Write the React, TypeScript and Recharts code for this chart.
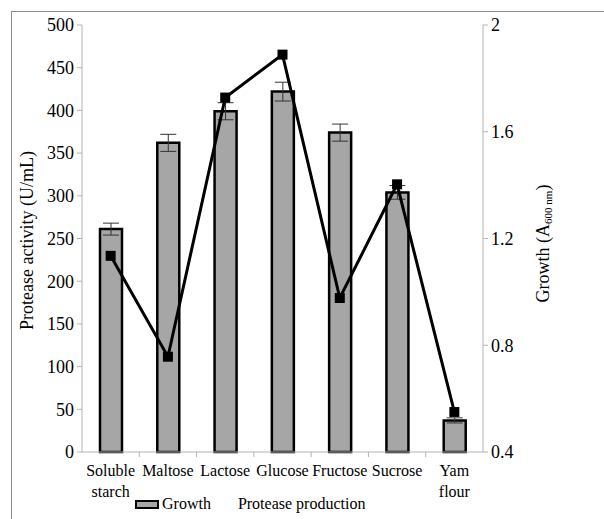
import React from "react";
import {
  ComposedChart,
  Bar,
  Line,
  XAxis,
  YAxis,
  ErrorBar,
} from "recharts";

const CATEGORIES = [
  "Soluble starch",
  "Maltose",
  "Lactose",
  "Glucose",
  "Fructose",
  "Sucrose",
  "Yam flour",
];
const CATEGORY_LINES = [
  ["Soluble", "starch"],
  ["Maltose"],
  ["Lactose"],
  ["Glucose"],
  ["Fructose"],
  ["Sucrose"],
  ["Yam", "flour"],
];
const BAR_VALUES = [261, 362, 399, 422, 374, 304, 37];
const BAR_ERRORS = [7, 10, 10, 11, 10, 8, 3];
const LINE_VALUES = [1.135, 0.757, 1.728, 1.889, 0.977, 1.403, 0.55];
const LEFT_TICKS = [0, 50, 100, 150, 200, 250, 300, 350, 400, 450, 500];
const RIGHT_TICKS = [0.4, 0.8, 1.2, 1.6, 2];

const data = CATEGORIES.map((c, i) => ({
  name: c,
  lines: CATEGORY_LINES[i],
  growth: BAR_VALUES[i],
  err: BAR_ERRORS[i],
  protease: LINE_VALUES[i],
}));

const FONT = "Tinos, 'Liberation Serif', 'DejaVu Serif', 'Times New Roman', serif";
const AXIS_GREY = "#b3b3b3";

const XTick = (props: any) => {
  const { x, y, payload, width } = props;
  const band = (width || 401) / CATEGORIES.length;
  const lines: string[] = data[payload.index]?.lines || [payload.value];
  const bx = x - band / 2;
  return (
    <g>
      {payload.index > 0 && (
        <line x1={bx} x2={bx} y1={y} y2={y + 5} stroke={AXIS_GREY} strokeWidth={1} />
      )}
      {lines.map((l, i) => (
        <text
          key={i}
          x={x}
          y={y + 24 + i * 21}
          textAnchor="middle"
          style={{ fontFamily: FONT, fontSize: 16 }}
          fill="#000"
        >
          {l}
        </text>
      ))}
    </g>
  );
};

const SquareDot = (props: any) => {
  const { cx, cy } = props;
  if (cx == null || cy == null) return null;
  return <rect x={cx - 5} y={cy - 5} width={10} height={10} fill="#000" />;
};

export default function App() {
  return (
    <div
      style={{
        position: "absolute",
        left: 0,
        top: 0,
        width: 604,
        height: 519,
        background: "#fff",
        fontFamily: FONT,
      }}
    >
      <div
        style={{
          position: "absolute",
          left: 11,
          top: 11,
          width: 620,
          height: 540,
          borderTop: "1.5px solid #8c8c8c",
          borderLeft: "1.5px solid #8c8c8c",
          boxSizing: "border-box",
        }}
      />
      <div style={{ position: "absolute", left: 0, top: 0 }}>
        <ComposedChart
          width={604}
          height={519}
          data={data}
          margin={{ top: 25, right: 0, left: 0, bottom: 0 }}
          barCategoryGap={0}
          style={{ fontFamily: FONT }}
        >
          <XAxis
            dataKey="name"
            height={67}
            axisLine={{ stroke: AXIS_GREY, strokeWidth: 1 }}
            tickLine={false}
            tickSize={0}
            tickMargin={0}
            interval={0}
            tick={<XTick />}
          />
          <YAxis
            yAxisId="left"
            orientation="left"
            width={82}
            domain={[0, 500]}
            ticks={LEFT_TICKS}
            interval={0}
            axisLine={{ stroke: AXIS_GREY, strokeWidth: 1 }}
            tickLine={{ stroke: AXIS_GREY, strokeWidth: 1 }}
            tickSize={5}
            tickMargin={3}
            tick={{ style: { fontFamily: FONT }, fontSize: 18, fill: "#000" }}
            label={(p: any) => {
              const vb = p.viewBox || {};
              const cx = 27;
              const cy = (vb.y || 25) + (vb.height || 427) / 2 + 2;
              return (
                <text
                  x={cx}
                  y={cy}
                  transform={`rotate(-90 ${cx} ${cy})`}
                  textAnchor="middle"
                  style={{ fontFamily: FONT, fontSize: 18 }}
                  fill="#000"
                  dominantBaseline="central"
                >
                  Protease activity (U/mL)
                </text>
              );
            }}
          />
          <YAxis
            yAxisId="right"
            orientation="right"
            width={121}
            domain={[0.4, 2]}
            ticks={RIGHT_TICKS}
            interval={0}
            allowDataOverflow
            axisLine={{ stroke: AXIS_GREY, strokeWidth: 1 }}
            tickLine={{ stroke: AXIS_GREY, strokeWidth: 1 }}
            tickSize={5}
            tickMargin={3}
            tickFormatter={(v: number) => String(v)}
            tick={{ style: { fontFamily: FONT }, fontSize: 18, fill: "#000" }}
            label={(p: any) => {
              const vb = p.viewBox || {};
              const cx = (vb.x || 483) + 60;
              const cy = (vb.y || 25) + (vb.height || 427) / 2 + 5;
              return (
                <text
                  x={cx}
                  y={cy}
                  transform={`rotate(-90 ${cx} ${cy})`}
                  textAnchor="middle"
                  style={{ fontFamily: FONT, fontSize: 18 }}
                  fill="#000"
                  dominantBaseline="central"
                >
                  Growth (A
                  <tspan style={{ fontSize: 11 }} dy={5}>600 nm</tspan>
                  <tspan dy={-5}>)</tspan>
                </text>
              );
            }}
          />
          <Bar
            yAxisId="left"
            dataKey="growth"
            barSize={22}
            fill="#a6a6a6"
            stroke="#000"
            strokeWidth={2.5}
            isAnimationActive={false}
          >
            <ErrorBar dataKey="err" width={8} stroke="#333" strokeWidth={1} />
          </Bar>
          <Line
            yAxisId="right"
            dataKey="protease"
            stroke="#000"
            strokeWidth={3}
            dot={<SquareDot />}
            activeDot={false}
            isAnimationActive={false}
          />
        </ComposedChart>
      </div>
      <div
        style={{
          position: "absolute",
          left: 135,
          top: 494,
          display: "flex",
          alignItems: "center",
          fontSize: 16,
          fontFamily: FONT,
          color: "#000",
          lineHeight: "20px",
        }}
      >
        <span
          style={{
            display: "inline-block",
            width: 24,
            height: 9,
            background: "#a6a6a6",
            border: "2.5px solid #000",
            boxSizing: "border-box",
            marginRight: 3,
          }}
        />
        <span>Growth</span>
        <span style={{ marginLeft: 27 }}>Protease production</span>
      </div>
    </div>
  );
}
